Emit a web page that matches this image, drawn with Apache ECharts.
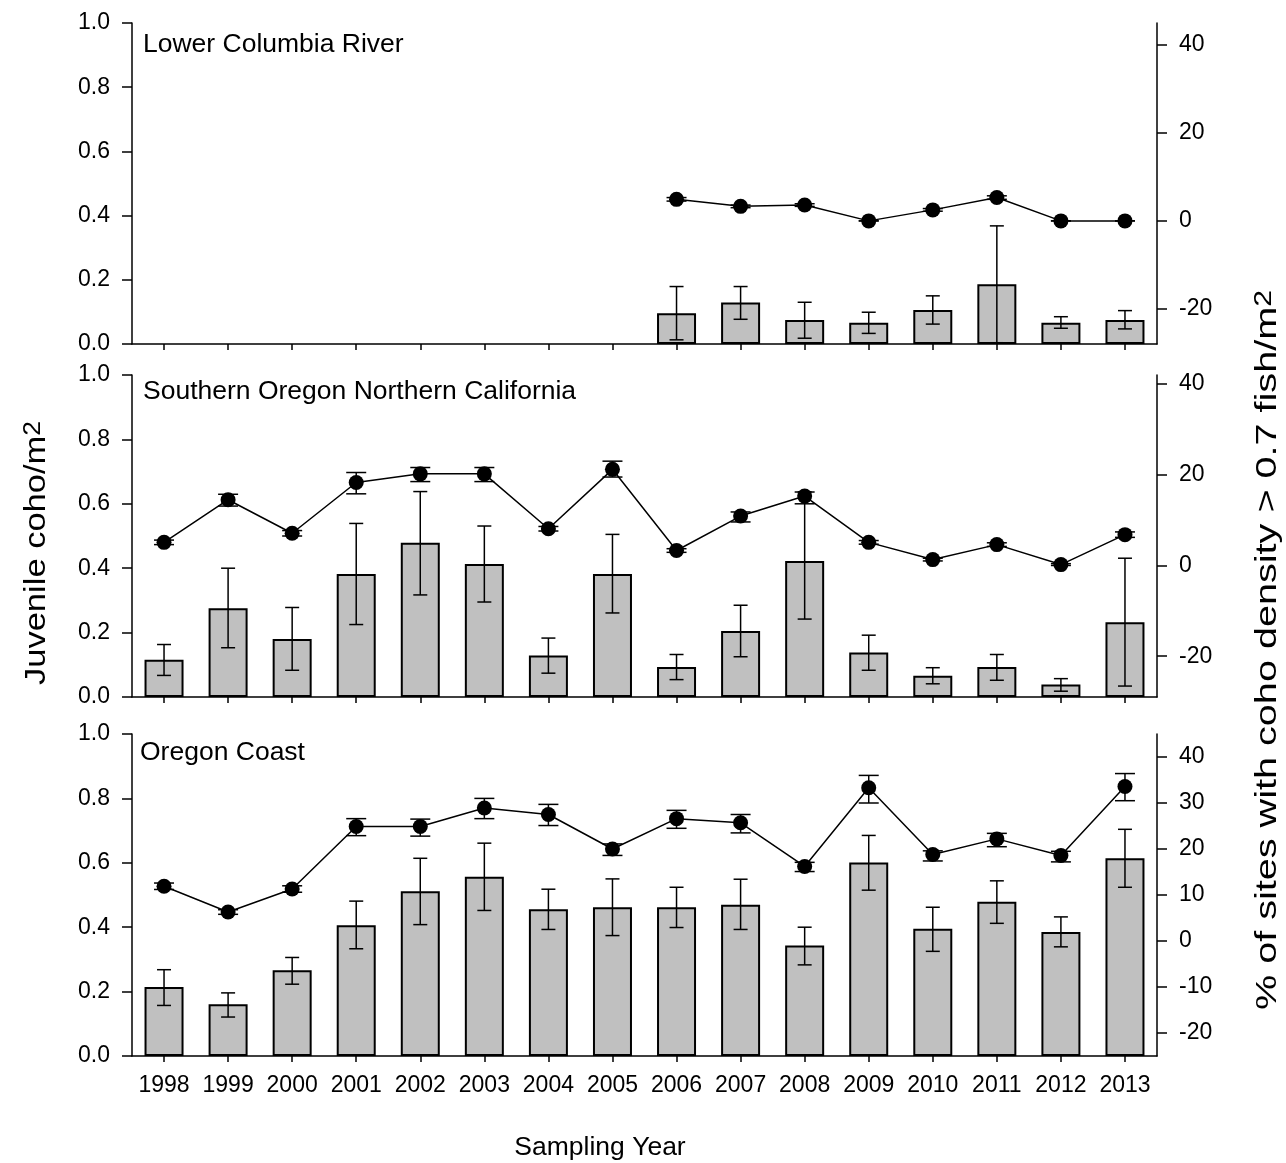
<!DOCTYPE html>
<html>
<head>
<meta charset="utf-8">
<script src="https://cdn.jsdelivr.net/npm/echarts@6/dist/echarts.min.js"></script>
<style>
  html, body { margin: 0; padding: 0; background: #ffffff; }
  #chart { width: 1286px; height: 1163px; }
</style>
</head>
<body>
<div id="chart"></div>
<script>
// Sampling years (x categories)
const years = ['1998', '1999', '2000', '2001', '2002', '2003', '2004', '2005',
               '2006', '2007', '2008', '2009', '2010', '2011', '2012', '2013'];

// Panel titles
const panelNames = ['Lower Columbia River', 'Southern Oregon Northern California', 'Oregon Coast'];

// Tick values
const densityTicks = [0, 0.2, 0.4, 0.6, 0.8, 1.0];
const pctTicksWide = [-20, 0, 20, 40];
const pctTicksFine = [-20, -10, 0, 10, 20, 30, 40];

// Lower Columbia River: mean juvenile coho/m2 (bars) with error limits
const lcrCoho     = [null, null, null, null, null, null, null, null, 0.096, 0.129, 0.075, 0.066, 0.106, 0.186, 0.066, 0.075];
const lcrCohoLow  = [null, null, null, null, null, null, null, null, 0.013, 0.077, 0.018, 0.033, 0.062, 0.004, 0.049, 0.047];
const lcrCohoHigh = [null, null, null, null, null, null, null, null, 0.179, 0.179, 0.130, 0.099, 0.150, 0.368, 0.085, 0.104];
// Lower Columbia River: % of sites with density > 0.7 fish/m2 (line)
const lcrSites     = [null, null, null, null, null, null, null, null, 4.9, 3.3, 3.6, 0.0, 2.5, 5.3, 0.0, 0.0];
const lcrSitesLow  = [null, null, null, null, null, null, null, null, 4.5, 3.0, 3.3, 0.0, 2.2, 4.9, 0.0, 0.0];
const lcrSitesHigh = [null, null, null, null, null, null, null, null, 5.3, 3.6, 3.9, 0.0, 2.8, 5.7, 0.0, 0.0];

// Southern Oregon Northern California
const soncCoho     = [0.116, 0.276, 0.180, 0.382, 0.479, 0.413, 0.129, 0.382, 0.093, 0.205, 0.422, 0.138, 0.066, 0.093, 0.039, 0.232];
const soncCohoLow  = [0.067, 0.153, 0.083, 0.225, 0.317, 0.295, 0.074, 0.261, 0.054, 0.125, 0.242, 0.083, 0.041, 0.052, 0.018, 0.034];
const soncCohoHigh = [0.163, 0.400, 0.278, 0.539, 0.638, 0.531, 0.183, 0.505, 0.132, 0.285, 0.637, 0.192, 0.091, 0.132, 0.057, 0.431];
const soncSites     = [5.1, 14.5, 7.1, 18.3, 20.2, 20.2, 8.1, 21.2, 3.3, 10.9, 15.3, 5.1, 1.3, 4.6, 0.2, 6.8];
const soncSitesLow  = [4.6, 13.1, 6.5, 15.8, 18.5, 18.5, 7.6, 19.5, 2.9, 9.6, 13.6, 4.7, 1.0, 4.2, 0.0, 6.2];
const soncSitesHigh = [5.6, 15.7, 7.7, 20.5, 21.6, 21.6, 8.6, 23.0, 3.7, 11.8, 16.2, 5.5, 1.6, 5.0, 0.4, 7.4];

// Oregon Coast
const ocCoho     = [0.214, 0.161, 0.266, 0.406, 0.512, 0.557, 0.456, 0.462, 0.462, 0.470, 0.343, 0.601, 0.395, 0.479, 0.385, 0.614];
const ocCohoLow  = [0.157, 0.121, 0.223, 0.333, 0.408, 0.452, 0.393, 0.374, 0.399, 0.393, 0.283, 0.515, 0.325, 0.412, 0.339, 0.524];
const ocCohoHigh = [0.268, 0.196, 0.306, 0.481, 0.614, 0.661, 0.518, 0.550, 0.524, 0.549, 0.400, 0.685, 0.462, 0.544, 0.432, 0.704];
const ocSites     = [11.9, 6.3, 11.3, 24.9, 24.9, 28.9, 27.5, 20.0, 26.6, 25.7, 16.2, 33.3, 18.8, 22.2, 18.6, 33.6];
const ocSitesLow  = [11.2, 5.8, 10.6, 22.9, 22.8, 26.6, 25.1, 18.6, 24.5, 23.5, 15.1, 30.0, 17.4, 20.5, 17.2, 30.5];
const ocSitesHigh = [12.6, 6.8, 12.0, 26.6, 26.5, 31.0, 29.7, 21.1, 28.4, 27.5, 17.1, 36.0, 19.6, 23.4, 19.5, 36.4];

const FONT = '"Liberation Sans", Arial, Helvetica, sans-serif';
const INK = '#000000';

const panels = [
  { coho: lcrCoho, cohoLow: lcrCohoLow, cohoHigh: lcrCohoHigh,
    sites: lcrSites, sitesLow: lcrSitesLow, sitesHigh: lcrSitesHigh,
    top: 23, height: 321, pctMin: -28, pctMax: 45, pctTicks: pctTicksWide },
  { coho: soncCoho, cohoLow: soncCohoLow, cohoHigh: soncCohoHigh,
    sites: soncSites, sitesLow: soncSitesLow, sitesHigh: soncSitesHigh,
    top: 375, height: 322, pctMin: -29, pctMax: 42, pctTicks: pctTicksWide },
  { coho: ocCoho, cohoLow: ocCohoLow, cohoHigh: ocCohoHigh,
    sites: ocSites, sitesLow: ocSitesLow, sitesHigh: ocSitesHigh,
    top: 734, height: 322, pctMin: -25, pctMax: 45, pctTicks: pctTicksFine }
];

const axisLine = { show: true, lineStyle: { color: INK, width: 1.5 } };
const tickLabel = { color: INK, fontSize: 23, fontFamily: FONT };

// Vertical whisker with end caps, drawn in data space
function errorBars(gridIdx, yAxisIdx, lows, highs, capHalf, z) {
  const data = [];
  lows.forEach((lo, i) => {
    if (lo !== null && highs[i] !== null) data.push([i, lo, highs[i]]);
  });
  return {
    type: 'custom', xAxisIndex: gridIdx, yAxisIndex: yAxisIdx, z: z,
    silent: true, animation: false, clip: false,
    data: data,
    encode: { x: 0, y: [1, 2] },
    renderItem: function (params, api) {
      const lo = api.coord([api.value(0), api.value(1)]);
      const hi = api.coord([api.value(0), api.value(2)]);
      const st = { stroke: INK, lineWidth: 1.5 };
      return {
        type: 'group',
        children: [
          { type: 'line', shape: { x1: lo[0], y1: lo[1], x2: hi[0], y2: hi[1] }, style: st },
          { type: 'line', shape: { x1: lo[0] - capHalf, y1: lo[1], x2: lo[0] + capHalf, y2: lo[1] }, style: st },
          { type: 'line', shape: { x1: hi[0] - capHalf, y1: hi[1], x2: hi[0] + capHalf, y2: hi[1] }, style: st }
        ]
      };
    }
  };
}

const grid = [], xAxis = [], yAxis = [], series = [];

panels.forEach((p, k) => {
  grid.push({ left: 132, right: 129, top: p.top, height: p.height, outerBoundsMode: 'none', containLabel: false });

  xAxis.push({
    type: 'category', gridIndex: k, data: years,
    axisLine: axisLine,
    axisTick: { show: true, alignWithLabel: true, interval: 0, length: 6, lineStyle: { color: INK, width: 1.5 } },
    axisLabel: Object.assign({ show: k === 2, interval: 0, margin: 18 }, tickLabel),
    splitLine: { show: false }
  });

  // left: density
  yAxis.push({
    type: 'value', gridIndex: k, position: 'left', min: 0, max: 1, interval: 0.2,
    axisLine: axisLine,
    axisTick: { show: true, length: 10, lineStyle: { color: INK, width: 1.5 } },
    axisLabel: Object.assign({ margin: 22, formatter: v => v.toFixed(1) }, tickLabel),
    splitLine: { show: false }
  });
  // right: percent of sites
  yAxis.push({
    type: 'value', gridIndex: k, position: 'right', min: p.pctMin, max: p.pctMax,
    axisLine: axisLine,
    axisTick: { show: true, length: 10, customValues: p.pctTicks, lineStyle: { color: INK, width: 1.5 } },
    axisLabel: Object.assign({ margin: 22, customValues: p.pctTicks }, tickLabel),
    splitLine: { show: false }
  });

  series.push({
    type: 'bar', xAxisIndex: k, yAxisIndex: 2 * k, data: p.coho,
    barWidth: 39, z: 2, animation: false,
    itemStyle: { color: '#c0c0c0', borderColor: INK, borderWidth: 2 }
  });
  series.push(errorBars(k, 2 * k, p.cohoLow, p.cohoHigh, 7, 3));
  series.push(errorBars(k, 2 * k + 1, p.sitesLow, p.sitesHigh, 10, 4));
  series.push({
    type: 'line', xAxisIndex: k, yAxisIndex: 2 * k + 1, data: p.sites,
    symbol: 'circle', symbolSize: 15, z: 5, animation: false, connectNulls: false,
    lineStyle: { color: INK, width: 1.5 },
    itemStyle: { color: INK }
  });
});

const titleFont = '26.5px ' + FONT;
const supRich = (size) => ({
  a: { fontSize: size, fontFamily: FONT, fill: INK },
  s: { fontSize: Math.round(size * 0.75), fontFamily: FONT, fill: INK, verticalAlign: 'top' }
});

const graphic = [
  { type: 'text', left: 143, top: 31, style: { text: panelNames[0], font: titleFont, fill: INK } },
  { type: 'text', left: 143, top: 378, style: { text: panelNames[1], font: titleFont, fill: INK } },
  { type: 'text', left: 140, top: 739, style: { text: panelNames[2], font: titleFont, fill: INK } },
  { type: 'text', x: 600, y: 1148, style: { text: 'Sampling Year', font: titleFont, fill: INK, align: 'center', verticalAlign: 'middle' } },
  {
    type: 'text', x: 37, y: 553, rotation: Math.PI / 2, scaleX: 1.15, scaleY: 1,
    style: {
      text: '{a|Juvenile coho/m}{s|2}', align: 'center', verticalAlign: 'middle', fill: INK,
      rich: supRich(30)
    }
  },
  {
    type: 'text', x: 1268, y: 650, rotation: Math.PI / 2, scaleX: 1.32, scaleY: 1,
    style: {
      text: '{a|% of sites with coho density > 0.7 fish/m}{s|2}', align: 'center', verticalAlign: 'middle', fill: INK,
      rich: supRich(30)
    }
  }
];

const chart = echarts.init(document.getElementById('chart'), null, { renderer: 'canvas' });
chart.setOption({
  backgroundColor: '#ffffff',
  animation: false,
  grid: grid, xAxis: xAxis, yAxis: yAxis, series: series,
  graphic: graphic
});
</script>
</body>
</html>
